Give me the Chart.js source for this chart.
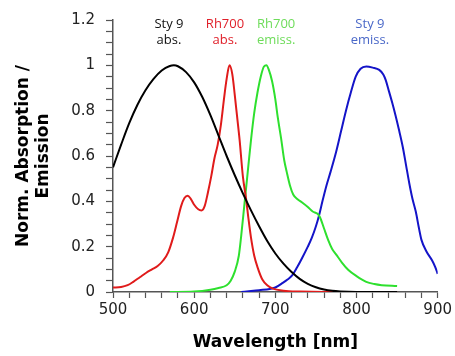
<!DOCTYPE html>
<html><head><meta charset="utf-8">
<script src="https://cdn.jsdelivr.net/npm/chart.js@4/dist/chart.umd.min.js"></script>
<style>html,body{margin:0;padding:0;background:#fff}#wrap{width:455px;height:356px}</style>
</head><body><div id="wrap"><canvas id="c" width="455" height="356"></canvas></div>
<script>
const xTicks = [500, 600, 700, 800, 900];
const yTicks = [0, 0.2, 0.4, 0.6, 0.8, 1, 1.2];

const sty9AbsNm = [500,510,520,530,540,550,560,570,575,580,590,600,610,620,630,640,650,660,670,680,690,700,710,720,730,740,750,760,770,780,800,825,850];
const sty9AbsVal = [0.55,0.65,0.745,0.825,0.89,0.94,0.977,0.997,1.0,0.996,0.97,0.925,0.86,0.78,0.69,0.60,0.515,0.435,0.36,0.29,0.225,0.17,0.125,0.088,0.058,0.036,0.021,0.011,0.005,0.002,0,0,0];

const rh700AbsNm = [500,510,518,525,533,541,548,555,562,568,574,579,584,588,592,596,600,605,609,613,617,621,625,629,633,637,640,643.5,647,650,653,656,660,664,667,670,674,678,684,690,697,710,730,760,800,850];
const rh700AbsVal = [0.02,0.022,0.03,0.045,0.065,0.085,0.10,0.115,0.14,0.175,0.24,0.31,0.38,0.415,0.425,0.41,0.385,0.365,0.36,0.38,0.44,0.51,0.59,0.65,0.74,0.86,0.94,1.0,0.96,0.87,0.77,0.67,0.51,0.41,0.32,0.24,0.16,0.11,0.055,0.03,0.015,0.006,0.002,0,0,0];

const rh700EmNm = [570,600,620,630,640,645,650,655,658,662,666,670,674,678,682,686,689,692,696,700,703,707,711,714,718,722,727,733,740,746,752,755,760,765,770,775,782,790,800,812,822,831,850];
const rh700EmVal = [0,0.002,0.01,0.018,0.03,0.05,0.09,0.16,0.25,0.39,0.53,0.67,0.79,0.88,0.95,0.995,1.0,0.98,0.93,0.85,0.77,0.68,0.58,0.53,0.47,0.43,0.41,0.395,0.375,0.355,0.345,0.33,0.28,0.23,0.19,0.165,0.13,0.097,0.07,0.045,0.035,0.03,0.026];

const sty9EmNm = [658,670,680,693,700,709,715,721,727,733,740,745,750,754,758,763,768,775,781,787,793,799,805,812,820,828,833,836,840,844,848,852,857,861,865,869,873,877,880,886,893,897,900];
const sty9EmVal = [0,0.004,0.008,0.013,0.02,0.04,0.055,0.074,0.11,0.15,0.2,0.24,0.29,0.34,0.4,0.47,0.53,0.62,0.71,0.80,0.88,0.95,0.985,0.995,0.99,0.98,0.96,0.935,0.885,0.835,0.78,0.72,0.64,0.56,0.48,0.41,0.355,0.28,0.23,0.18,0.14,0.11,0.08];

const seriesNames = ['Sty 9 abs.', 'Rh700 abs.', 'Rh700 emiss.', 'Sty 9 emiss.'];
const lineColors = ['#000000', '#e01b1b', '#2ee02e', '#1414c8'];
const labelColors = ['#111111', '#e0202a', '#6edc5a', '#4a68c8'];
const labelLines = [['Sty 9', 'abs.'], ['Rh700', 'abs.'], ['Rh700', 'emiss.'], ['Sty 9', 'emiss.']];
const labelAnchorNm = [569, 638, 701, 816.5];
const labelAnchorVal = [1.183, 1.109];

function pts(xs, ys) { return xs.map((x, i) => ({x: x, y: ys[i]})); }
const allNm = [sty9AbsNm, rh700AbsNm, rh700EmNm, sty9EmNm];
const allVal = [sty9AbsVal, rh700AbsVal, rh700EmVal, sty9EmVal];

const labelPlugin = {
  id: 'topLabels',
  afterDraw(chart) {
    const ctx = chart.ctx, xs = chart.scales.x, ys = chart.scales.y;
    ctx.save();
    ctx.font = '13px "Open Sans", sans-serif';
    ctx.textAlign = 'center';
    ctx.textBaseline = 'middle';
    labelLines.forEach((lines, i) => {
      ctx.fillStyle = labelColors[i];
      lines.forEach((t, j) => {
        ctx.fillText(t, xs.getPixelForValue(labelAnchorNm[i]), ys.getPixelForValue(labelAnchorVal[j]));
      });
    });
    ctx.restore();
  }
};

new Chart(document.getElementById('c'), {
  type: 'line',
  data: {
    datasets: seriesNames.map((n, i) => ({
      label: n,
      data: pts(allNm[i], allVal[i]),
      borderColor: lineColors[i],
      borderWidth: 2,
      pointRadius: 0,
      fill: false,
      cubicInterpolationMode: 'monotone'
    }))
  },
  options: {
    responsive: false,
    animation: false,
    layout: { padding: { top: 16, right: 16, left: 0, bottom: 0 } },
    plugins: { legend: { display: false }, tooltip: { enabled: false } },
    scales: {
      x: {
        type: 'linear', min: 500, max: 900,
        afterFit(s) { s.height = 64; },
        ticks: {
          stepSize: 20, autoSkip: false, maxRotation: 0, padding: 3,
          color: '#222', font: { family: 'DejaVu Sans', size: 15 },
          callback: v => xTicks.includes(v) ? String(v) : ''
        },
        grid: { drawOnChartArea: false, tickLength: 6, tickColor: '#555', tickWidth: 1.2 },
        border: { display: true, color: '#555', width: 1.5 },
        title: { display: true, text: 'Wavelength [nm]', color: '#000',
          font: { family: 'DejaVu Sans', size: 17, weight: 'bold' }, padding: { top: 0, bottom: 3 } }
      },
      y: {
        min: 0, max: 1.2,
        afterFit(s) { s.width = 113; },
        ticks: {
          stepSize: 0.05, autoSkip: false, padding: 11,
          color: '#222', font: { family: 'DejaVu Sans', size: 15 },
          callback: v => { const r = Math.round(v * 100) / 100; return yTicks.some(t => Math.abs(t - r) < 1e-6) ? String(r) : ''; }
        },
        grid: { drawOnChartArea: false, tickLength: 7, tickColor: '#555', tickWidth: 1.2 },
        border: { display: true, color: '#555', width: 1.5 },
        title: { display: true, text: ['Norm. Absorption /', 'Emission'], color: '#000',
          font: { family: 'DejaVu Sans', size: 17, weight: 'bold', lineHeight: 1.2 }, padding: { top: 13, bottom: 0 } }
      }
    }
  },
  plugins: [labelPlugin]
});
</script>
</body></html>
